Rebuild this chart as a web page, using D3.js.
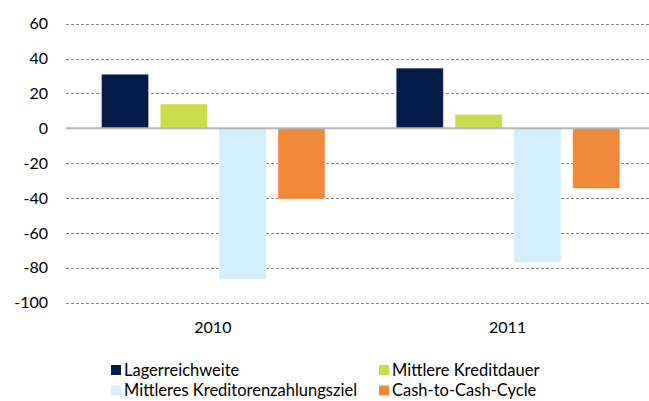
<!DOCTYPE html>
<html>
<head>
<meta charset="utf-8">
<script src="https://cdn.jsdelivr.net/npm/d3@7"></script>
<style>
  body { margin: 0; background: #fff; }
  text { font-family: Lato, "Noto Sans", sans-serif; fill: #000; }
</style>
</head>
<body>
<svg width="649" height="401"></svg>
<script>
"use strict";

const years = ["2010", "2011"];
const series = ["Lagerreichweite", "Mittlere Kreditdauer", "Mittleres Kreditorenzahlungsziel", "Cash-to-Cash-Cycle"];
const colors = ["#021b48", "#c9dc4b", "#d3eefa", "#f0883a"];
const values2010 = [31, 14, -86.5, -40.5];
const values2011 = [34.5, 8, -77, -34.5];
const yTicks = [60, 40, 20, 0, -20, -40, -60, -80, -100];

const svg = d3.select("svg");
const rows = [values2010, values2011];

const x = d3.scaleBand().domain(years).range([66, 655.5]);
const xInner = d3.scaleBand().domain(series).range([35.5, 259]).paddingInner(0.2);
const y = d3.scaleLinear().domain([-100, 60]).range([302.7, 23.7]);

// gridlines
svg.append("g")
  .selectAll("line")
  .data(yTicks.filter(d => d !== 0))
  .enter()
  .append("line")
  .attr("x1", 66)
  .attr("x2", 656)
  .attr("y1", d => Math.round(y(d)) + 0.5)
  .attr("y2", d => Math.round(y(d)) + 0.5)
  .attr("stroke", "#878787")
  .attr("stroke-dasharray", "3,2");

// tick labels
svg.append("g")
  .selectAll("text")
  .data(yTicks)
  .enter()
  .append("text")
  .attr("x", 48)
  .attr("y", d => y(d))
  .attr("dy", "0.35em")
  .attr("text-anchor", "end")
  .style("font-size", "16px")
  .text(d => d);

// bars
const groups = svg.append("g")
  .selectAll("g")
  .data(rows)
  .enter()
  .append("g")
  .attr("transform", (d, i) => `translate(${x(years[i])},0)`);

groups.selectAll("rect")
  .data(d => d)
  .enter()
  .append("rect")
  .attr("x", (d, i) => xInner(series[i]))
  .attr("width", xInner.bandwidth())
  .attr("y", d => y(Math.max(0, d)))
  .attr("height", d => Math.abs(y(d) - y(0)))
  .attr("fill", (d, i) => colors[i])
  .attr("stroke", "rgba(255,255,255,0.35)")
  .attr("stroke-width", 1);

// zero line
svg.append("line")
  .attr("x1", 66)
  .attr("x2", 656)
  .attr("y1", y(0))
  .attr("y2", y(0))
  .attr("stroke", "#b3b3b3")
  .attr("stroke-width", 2);

// category labels
svg.append("g")
  .selectAll("text")
  .data(years)
  .enter()
  .append("text")
  .attr("x", d => x(d) + x.bandwidth() / 2 - 0.5)
  .attr("y", 333)
  .attr("text-anchor", "middle")
  .style("font-size", "16px")
  .text(d => d);

// legend
const legendPos = [[111, 365], [379, 365], [111, 385.5], [379, 385.5]];
const legend = svg.append("g")
  .selectAll("g")
  .data(series)
  .enter()
  .append("g")
  .attr("transform", (d, i) => `translate(${legendPos[i][0]},${legendPos[i][1]})`);

legend.append("rect")
  .attr("width", 10)
  .attr("height", 10)
  .attr("fill", (d, i) => colors[i]);

legend.append("text")
  .attr("x", 13)
  .attr("y", 5)
  .attr("dy", "0.35em")
  .style("font-size", "16.5px")
  .text(d => d);
</script>
</body>
</html>
